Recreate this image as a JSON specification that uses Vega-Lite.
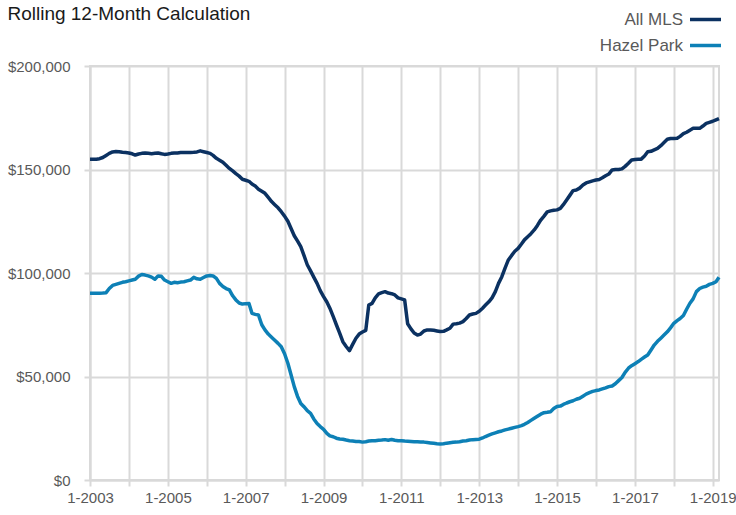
{
"$schema": "https://vega.github.io/schema/vega-lite/v6.json",
"width": 629,
"height": 414,
"autosize": "none",
"padding": {"left": 90, "top": 66, "right": 17, "bottom": 35},
"title": {"text": "Rolling 12-Month Calculation", "anchor": "start", "frame": "bounds", "fontSize": 19, "font": "Liberation Sans", "fontWeight": "normal", "color": "#1a1a1a", "offset": -22},
"data": {
"format": {"parse": {"d": "date:'%Y-%m'"}},
"values": [
{"d":"2003-01","All MLS":155000,"Hazel Park":90200},{"d":"2003-02","All MLS":155000,"Hazel Park":90200},{"d":"2003-03","All MLS":155000,"Hazel Park":90200},{"d":"2003-04","All MLS":155200,"Hazel Park":90200},{"d":"2003-05","All MLS":155800,"Hazel Park":90300},{"d":"2003-06","All MLS":156800,"Hazel Park":90500},{"d":"2003-07","All MLS":157800,"Hazel Park":92500},{"d":"2003-08","All MLS":158500,"Hazel Park":94000},{"d":"2003-09","All MLS":158700,"Hazel Park":94500},{"d":"2003-10","All MLS":158600,"Hazel Park":95000},{"d":"2003-11","All MLS":158300,"Hazel Park":95500},{"d":"2003-12","All MLS":158200,"Hazel Park":95800},
{"d":"2004-01","All MLS":158000,"Hazel Park":96200},{"d":"2004-02","All MLS":157600,"Hazel Park":96600},{"d":"2004-03","All MLS":157000,"Hazel Park":97000},{"d":"2004-04","All MLS":157500,"Hazel Park":98500},{"d":"2004-05","All MLS":157800,"Hazel Park":99300},{"d":"2004-06","All MLS":158000,"Hazel Park":99000},{"d":"2004-07","All MLS":157800,"Hazel Park":98600},{"d":"2004-08","All MLS":157600,"Hazel Park":98000},{"d":"2004-09","All MLS":157800,"Hazel Park":97000},{"d":"2004-10","All MLS":158000,"Hazel Park":98600},{"d":"2004-11","All MLS":157600,"Hazel Park":98400},{"d":"2004-12","All MLS":157300,"Hazel Park":96600},
{"d":"2005-01","All MLS":157500,"Hazel Park":95800},{"d":"2005-02","All MLS":157800,"Hazel Park":95000},{"d":"2005-03","All MLS":158000,"Hazel Park":95500},{"d":"2005-04","All MLS":158000,"Hazel Park":95300},{"d":"2005-05","All MLS":158200,"Hazel Park":95600},{"d":"2005-06","All MLS":158200,"Hazel Park":95800},{"d":"2005-07","All MLS":158200,"Hazel Park":96200},{"d":"2005-08","All MLS":158200,"Hazel Park":96600},{"d":"2005-09","All MLS":158300,"Hazel Park":97900},{"d":"2005-10","All MLS":158500,"Hazel Park":97200},{"d":"2005-11","All MLS":159000,"Hazel Park":97000},{"d":"2005-12","All MLS":158600,"Hazel Park":97800},
{"d":"2006-01","All MLS":158200,"Hazel Park":98600},{"d":"2006-02","All MLS":157800,"Hazel Park":98800},{"d":"2006-03","All MLS":156800,"Hazel Park":98600},{"d":"2006-04","All MLS":155400,"Hazel Park":97400},{"d":"2006-05","All MLS":154500,"Hazel Park":95000},{"d":"2006-06","All MLS":153500,"Hazel Park":93500},{"d":"2006-07","All MLS":152000,"Hazel Park":92500},{"d":"2006-08","All MLS":150500,"Hazel Park":91800},{"d":"2006-09","All MLS":149300,"Hazel Park":89000},{"d":"2006-10","All MLS":148000,"Hazel Park":87000},{"d":"2006-11","All MLS":146800,"Hazel Park":85500},{"d":"2006-12","All MLS":145300,"Hazel Park":85000},
{"d":"2007-01","All MLS":144800,"Hazel Park":85200},{"d":"2007-02","All MLS":144300,"Hazel Park":85300},{"d":"2007-03","All MLS":143000,"Hazel Park":80500},{"d":"2007-04","All MLS":142000,"Hazel Park":80000},{"d":"2007-05","All MLS":140500,"Hazel Park":79700},{"d":"2007-06","All MLS":139500,"Hazel Park":75000},{"d":"2007-07","All MLS":138500,"Hazel Park":72500},{"d":"2007-08","All MLS":136500,"Hazel Park":70500},{"d":"2007-09","All MLS":134500,"Hazel Park":69000},{"d":"2007-10","All MLS":133000,"Hazel Park":67500},{"d":"2007-11","All MLS":131500,"Hazel Park":66000},{"d":"2007-12","All MLS":129600,"Hazel Park":64400},
{"d":"2008-01","All MLS":127500,"Hazel Park":61000},{"d":"2008-02","All MLS":125000,"Hazel Park":56400},{"d":"2008-03","All MLS":121600,"Hazel Park":51000},{"d":"2008-04","All MLS":118000,"Hazel Park":45100},{"d":"2008-05","All MLS":115500,"Hazel Park":40500},{"d":"2008-06","All MLS":112700,"Hazel Park":37000},{"d":"2008-07","All MLS":108500,"Hazel Park":35400},{"d":"2008-08","All MLS":104000,"Hazel Park":33500},{"d":"2008-09","All MLS":101000,"Hazel Park":32200},{"d":"2008-10","All MLS":98000,"Hazel Park":29500},{"d":"2008-11","All MLS":95000,"Hazel Park":27300},{"d":"2008-12","All MLS":91500,"Hazel Park":25800},
{"d":"2009-01","All MLS":88600,"Hazel Park":24500},{"d":"2009-02","All MLS":86000,"Hazel Park":22500},{"d":"2009-03","All MLS":83000,"Hazel Park":21300},{"d":"2009-04","All MLS":79000,"Hazel Park":20900},{"d":"2009-05","All MLS":75000,"Hazel Park":20200},{"d":"2009-06","All MLS":71000,"Hazel Park":19800},{"d":"2009-07","All MLS":66800,"Hazel Park":19700},{"d":"2009-08","All MLS":64500,"Hazel Park":19300},{"d":"2009-09","All MLS":62500,"Hazel Park":19000},{"d":"2009-10","All MLS":65500,"Hazel Park":18800},{"d":"2009-11","All MLS":68500,"Hazel Park":18600},{"d":"2009-12","All MLS":70500,"Hazel Park":18600},
{"d":"2010-01","All MLS":71500,"Hazel Park":18300},{"d":"2010-02","All MLS":72300,"Hazel Park":18500},{"d":"2010-03","All MLS":84500,"Hazel Park":18800},{"d":"2010-04","All MLS":85300,"Hazel Park":19000},{"d":"2010-05","All MLS":88000,"Hazel Park":19000},{"d":"2010-06","All MLS":89900,"Hazel Park":19200},{"d":"2010-07","All MLS":90500,"Hazel Park":19300},{"d":"2010-08","All MLS":91000,"Hazel Park":19500},{"d":"2010-09","All MLS":90300,"Hazel Park":19200},{"d":"2010-10","All MLS":90000,"Hazel Park":19600},{"d":"2010-11","All MLS":89400,"Hazel Park":19200},{"d":"2010-12","All MLS":88000,"Hazel Park":19000},
{"d":"2011-01","All MLS":87500,"Hazel Park":19000},{"d":"2011-02","All MLS":87000,"Hazel Park":18800},{"d":"2011-03","All MLS":75500,"Hazel Park":18700},{"d":"2011-04","All MLS":73000,"Hazel Park":18600},{"d":"2011-05","All MLS":71000,"Hazel Park":18500},{"d":"2011-06","All MLS":70000,"Hazel Park":18500},{"d":"2011-07","All MLS":70500,"Hazel Park":18400},{"d":"2011-08","All MLS":72000,"Hazel Park":18300},{"d":"2011-09","All MLS":72500,"Hazel Park":18100},{"d":"2011-10","All MLS":72500,"Hazel Park":17900},{"d":"2011-11","All MLS":72300,"Hazel Park":17700},{"d":"2011-12","All MLS":72000,"Hazel Park":17500},
{"d":"2012-01","All MLS":71700,"Hazel Park":17400},{"d":"2012-02","All MLS":71800,"Hazel Park":17500},{"d":"2012-03","All MLS":72500,"Hazel Park":17800},{"d":"2012-04","All MLS":73300,"Hazel Park":18000},{"d":"2012-05","All MLS":75300,"Hazel Park":18200},{"d":"2012-06","All MLS":75500,"Hazel Park":18300},{"d":"2012-07","All MLS":75800,"Hazel Park":18500},{"d":"2012-08","All MLS":76500,"Hazel Park":18800},{"d":"2012-09","All MLS":78000,"Hazel Park":19000},{"d":"2012-10","All MLS":79700,"Hazel Park":19300},{"d":"2012-11","All MLS":80200,"Hazel Park":19500},{"d":"2012-12","All MLS":80500,"Hazel Park":19600},
{"d":"2013-01","All MLS":81500,"Hazel Park":19700},{"d":"2013-02","All MLS":83000,"Hazel Park":20300},{"d":"2013-03","All MLS":84500,"Hazel Park":21000},{"d":"2013-04","All MLS":86100,"Hazel Park":21700},{"d":"2013-05","All MLS":88000,"Hazel Park":22300},{"d":"2013-06","All MLS":91000,"Hazel Park":22800},{"d":"2013-07","All MLS":95000,"Hazel Park":23300},{"d":"2013-08","All MLS":98200,"Hazel Park":23700},{"d":"2013-09","All MLS":102500,"Hazel Park":24200},{"d":"2013-10","All MLS":106300,"Hazel Park":24600},{"d":"2013-11","All MLS":108500,"Hazel Park":25000},{"d":"2013-12","All MLS":110500,"Hazel Park":25400},
{"d":"2014-01","All MLS":111900,"Hazel Park":25800},{"d":"2014-02","All MLS":114000,"Hazel Park":26300},{"d":"2014-03","All MLS":116000,"Hazel Park":26900},{"d":"2014-04","All MLS":117500,"Hazel Park":27800},{"d":"2014-05","All MLS":119000,"Hazel Park":28800},{"d":"2014-06","All MLS":120800,"Hazel Park":29800},{"d":"2014-07","All MLS":123000,"Hazel Park":30800},{"d":"2014-08","All MLS":125600,"Hazel Park":31800},{"d":"2014-09","All MLS":127500,"Hazel Park":32500},{"d":"2014-10","All MLS":129500,"Hazel Park":32700},{"d":"2014-11","All MLS":130000,"Hazel Park":33000},{"d":"2014-12","All MLS":130300,"Hazel Park":34500},
{"d":"2015-01","All MLS":130500,"Hazel Park":35500},{"d":"2015-02","All MLS":131200,"Hazel Park":35700},{"d":"2015-03","All MLS":133000,"Hazel Park":36500},{"d":"2015-04","All MLS":135300,"Hazel Park":37200},{"d":"2015-05","All MLS":137500,"Hazel Park":37800},{"d":"2015-06","All MLS":139800,"Hazel Park":38300},{"d":"2015-07","All MLS":140100,"Hazel Park":39000},{"d":"2015-08","All MLS":141000,"Hazel Park":39500},{"d":"2015-09","All MLS":142500,"Hazel Park":40500},{"d":"2015-10","All MLS":143500,"Hazel Park":41500},{"d":"2015-11","All MLS":144000,"Hazel Park":42200},{"d":"2015-12","All MLS":144500,"Hazel Park":42800},
{"d":"2016-01","All MLS":144900,"Hazel Park":43200},{"d":"2016-02","All MLS":145200,"Hazel Park":43500},{"d":"2016-03","All MLS":146000,"Hazel Park":44000},{"d":"2016-04","All MLS":147000,"Hazel Park":44500},{"d":"2016-05","All MLS":147800,"Hazel Park":45100},{"d":"2016-06","All MLS":149800,"Hazel Park":45400},{"d":"2016-07","All MLS":150000,"Hazel Park":46500},{"d":"2016-08","All MLS":150000,"Hazel Park":48000},{"d":"2016-09","All MLS":150300,"Hazel Park":49500},{"d":"2016-10","All MLS":151500,"Hazel Park":52000},{"d":"2016-11","All MLS":153000,"Hazel Park":54000},{"d":"2016-12","All MLS":154600,"Hazel Park":55200},
{"d":"2017-01","All MLS":154800,"Hazel Park":56200},{"d":"2017-02","All MLS":154900,"Hazel Park":57200},{"d":"2017-03","All MLS":155000,"Hazel Park":58300},{"d":"2017-04","All MLS":156500,"Hazel Park":59400},{"d":"2017-05","All MLS":158600,"Hazel Park":60400},{"d":"2017-06","All MLS":158800,"Hazel Park":62800},{"d":"2017-07","All MLS":159500,"Hazel Park":65200},{"d":"2017-08","All MLS":160200,"Hazel Park":67000},{"d":"2017-09","All MLS":161500,"Hazel Park":68500},{"d":"2017-10","All MLS":163000,"Hazel Park":70000},{"d":"2017-11","All MLS":164600,"Hazel Park":71600},{"d":"2017-12","All MLS":165000,"Hazel Park":73500},
{"d":"2018-01","All MLS":165000,"Hazel Park":75700},{"d":"2018-02","All MLS":165100,"Hazel Park":77000},{"d":"2018-03","All MLS":166000,"Hazel Park":78000},{"d":"2018-04","All MLS":167300,"Hazel Park":79500},{"d":"2018-05","All MLS":168000,"Hazel Park":82500},{"d":"2018-06","All MLS":169000,"Hazel Park":85400},{"d":"2018-07","All MLS":169900,"Hazel Park":87500},{"d":"2018-08","All MLS":169900,"Hazel Park":91000},{"d":"2018-09","All MLS":169900,"Hazel Park":92500},{"d":"2018-10","All MLS":171000,"Hazel Park":93200},{"d":"2018-11","All MLS":172300,"Hazel Park":93600},{"d":"2018-12","All MLS":172800,"Hazel Park":94500},
{"d":"2019-01","All MLS":173300,"Hazel Park":95000},{"d":"2019-02","All MLS":174000,"Hazel Park":95800},{"d":"2019-03","All MLS":174600,"Hazel Park":97900}
]
},
"transform": [{"fold": ["All MLS", "Hazel Park"], "as": ["k", "v"]}],
"mark": {"type": "line", "strokeWidth": 3.5, "strokeJoin": "round"},
"encoding": {
"x": {"field": "d", "type": "temporal",
"scale": {"domain": [{"year": 2003, "month": 1, "date": 1}, {"year": 2019, "month": 3, "date": 1}], "nice": false},
"axis": {"title": null, "tickCount": {"interval": "year", "step": 1},
"labelExpr": "year(datum.value) % 2 == 1 ? timeFormat(datum.value, '%-m-%Y') : ''",
"labelFlush": false, "labelOverlap": false, "labelPadding": 4}},
"y": {"field": "v", "type": "quantitative",
"scale": {"domain": [0, 200000], "nice": false},
"axis": {"title": null, "values": [0, 50000, 100000, 150000, 200000], "format": "$,.0f", "labelPadding": 14}},
"color": {"field": "k", "type": "nominal",
"scale": {"domain": ["All MLS", "Hazel Park"], "range": ["#0b3161", "#0d80b6"]},
"legend": {"title": null, "orient": "none", "legendX": 598, "legendY": -64, "symbolType": "stroke", "symbolSize": 961, "symbolStrokeWidth": 3.5, "labelAlign": "right", "labelOffset": -40, "labelFontSize": 17, "labelFont": "Liberation Sans", "labelColor": "#595959", "rowPadding": -6, "padding": 0}}
},
"config": {
"view": {"stroke": "#d9d9d9", "strokeWidth": 2},
"axis": {"grid": true, "gridColor": "#d9d9d9", "gridWidth": 2, "tickColor": "#d9d9d9", "tickWidth": 2, "tickSize": 6, "domainColor": "#d9d9d9", "domainWidth": 2, "labelFont": "Liberation Sans", "labelFontSize": 15, "labelColor": "#595959"}
}
}
